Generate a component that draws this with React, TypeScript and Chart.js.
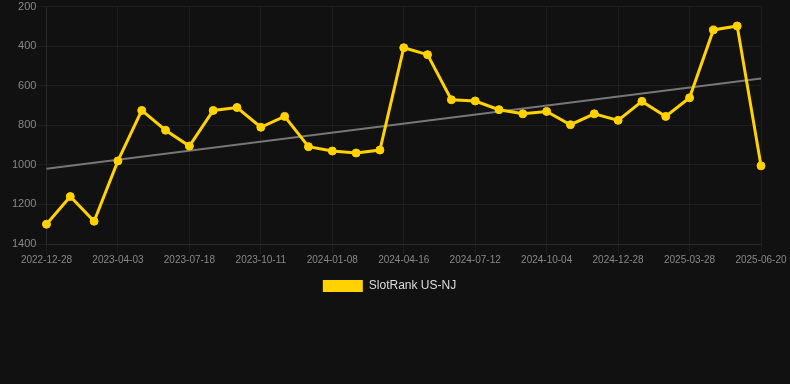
import React, { useEffect, useRef } from "react";
import { Chart, registerables } from "chart.js";

Chart.register(...registerables);

const categories: string[] = [
  "2022-12-28", "2023-01-29", "2023-03-02", "2023-04-03", "2023-05-08", "2023-06-12",
  "2023-07-18", "2023-08-17", "2023-09-14", "2023-10-11", "2023-11-10", "2023-12-09",
  "2024-01-08", "2024-02-13", "2024-03-15", "2024-04-16", "2024-05-15", "2024-06-13",
  "2024-07-12", "2024-08-09", "2024-09-06", "2024-10-04", "2024-11-01", "2024-11-30",
  "2024-12-28", "2025-01-27", "2025-02-26", "2025-03-28", "2025-04-25", "2025-05-23",
  "2025-06-20",
];

const slotRank: number[] = [
  1300, 1160, 1285, 980, 725, 825, 905, 725, 710, 810, 755, 908,
  930, 940, 925, 408, 443, 671, 677, 721, 742, 730, 797, 742,
  775, 679, 755, 661, 318, 298, 1005,
];

const trendStart = 1020;
const trendEnd = 564;

const yTicks: number[] = [200, 400, 600, 800, 1000, 1200, 1400];

const GRID = "rgba(255,255,255,0.05)";

const legendShift = {
  id: "legendShift",
  afterLayout(chart: any) {
    const lg = chart.legend;
    if (lg) {
      lg.left += 3;
      lg.right += 3;
    }
  },
};

export default function App() {
  const ref = useRef<HTMLCanvasElement | null>(null);

  useEffect(() => {
    document.body.style.margin = "0";
    document.body.style.background = "#111111";
    if (!ref.current) return;
    const trend: (number | null)[] = categories.map((_, i) =>
      i === 0 ? trendStart : i === categories.length - 1 ? trendEnd : null
    );
    const chart = new Chart(ref.current, {
      type: "line",
      data: {
        labels: categories,
        datasets: [
          {
            label: "SlotRank US-NJ",
            data: slotRank,
            borderColor: "#FFD200",
            backgroundColor: "#FFD200",
            borderWidth: 3,
            pointRadius: 4,
            pointHoverRadius: 4,
            pointBorderWidth: 1,
            pointBackgroundColor: "#FFD200",
            pointBorderColor: "#FFD200",
            tension: 0,
          },
          {
            label: "trend",
            data: trend,
            borderColor: "#777777",
            backgroundColor: "#777777",
            borderWidth: 2,
            pointRadius: 0,
            spanGaps: true,
          },
        ],
      },
      plugins: [legendShift],
      options: {
        animation: false,
        responsive: true,
        maintainAspectRatio: false,
        layout: { padding: { left: 12, right: 29, top: 0, bottom: 0 } },
        plugins: {
          legend: {
            position: "bottom",
            labels: {
              color: "#dddddd",
              font: { size: 12 },
              boxWidth: 40,
              boxHeight: 12,
              filter: (item) => item.text !== "trend",
              generateLabels: (c) => {
                const items = Chart.defaults.plugins.legend.labels.generateLabels(c);
                return items.map((it) => ({ ...it, lineWidth: 0 }));
              },
            },
          },
          tooltip: { enabled: false },
        },
        scales: {
          x: {
            afterFit: (axis) => {
              axis.height += 4;
            },
            grid: {
              tickLength: 10,
              color: (ctx) => (ctx.index % 3 === 0 ? GRID : "rgba(0,0,0,0)"),
            },
            border: { color: GRID },
            ticks: {
              color: "#888888",
              font: { size: 10 },
              padding: 0,
              autoSkip: false,
              maxRotation: 0,
              callback: function (_v, i) {
                return i % 3 === 0 ? categories[i] : "";
              },
            },
          },
          y: {
            reverse: true,
            min: 200,
            max: 1400,
            grid: { color: GRID, tickLength: 10 },
            border: { color: GRID },
            afterBuildTicks: (axis) => {
              axis.ticks = yTicks.map((v) => ({ value: v }));
            },
            ticks: {
              color: "#888888",
              font: { size: 11 },
              padding: 0,
              callback: (v) => String(v),
            },
          },
        },
      },
    });
    return () => chart.destroy();
  }, []);

  return (
    <div style={{ width: 790, height: 302, position: "relative" }}>
      <canvas ref={ref} />
    </div>
  );
}
